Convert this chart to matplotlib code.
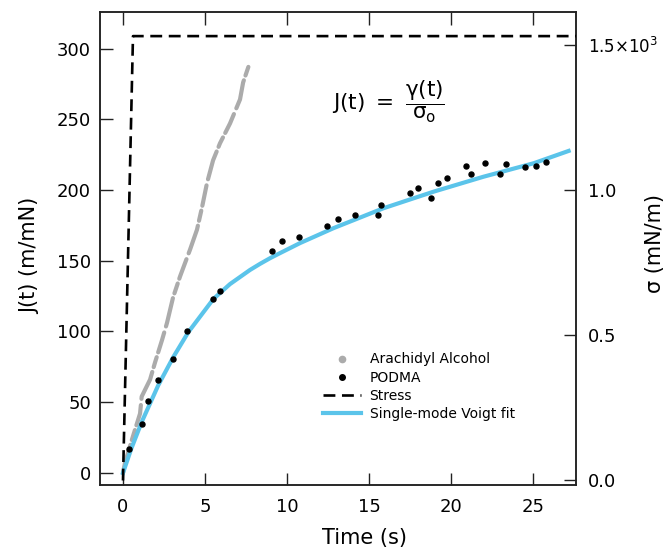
import matplotlib
matplotlib.use("Agg")
import matplotlib.pyplot as plt
from matplotlib.lines import Line2D

plt.rcParams['font.family'] = ['DejaVu Sans']
plt.rcParams['mathtext.fontset'] = 'custom'
plt.rcParams['mathtext.rm'] = 'DejaVu Sans'
plt.rcParams['mathtext.it'] = 'DejaVu Sans'

# Arachidyl Alcohol creep compliance (grey)
aa_t = [0.0, 0.12, 0.53, 1.04, 1.14, 1.65, 1.95, 2.38, 2.68, 3.05, 3.48, 4.09,
        4.51, 4.82, 5.12, 5.49, 5.91, 6.52, 7.13, 7.32, 7.64]
aa_J = [0, 7, 23, 42, 54, 66, 78, 94, 106, 124, 139, 158,
        172, 188, 205, 221, 233, 247, 264, 276, 287]

# PODMA creep compliance (black dots)
pod_t = [0.37, 1.14, 1.54, 2.15, 3.03, 3.92, 5.47, 5.91, 9.07, 9.71, 10.71, 12.40,
         13.13, 14.13, 15.53, 15.71, 17.46, 17.99, 18.74, 19.19, 19.77, 20.87,
         21.20, 22.05, 22.97, 23.35, 24.47, 25.16, 25.75]
pod_J = [16.7, 34.6, 50.7, 65.4, 80.4, 100.4, 123.2, 128.8, 157.1, 164.2, 166.8, 174.6,
         179.5, 182.3, 182.5, 189.2, 197.7, 201.4, 194.1, 205.2, 208.5, 216.7,
         211.1, 218.9, 211.5, 218.4, 216.0, 217.2, 219.8]

# Single-mode Voigt fit (blue)
fit_t = [0.0, 0.5, 1.14, 2.15, 3.07, 3.98, 5.51, 6.52, 7.74, 8.35, 8.96, 9.5, 10.79,
         12.82, 15.87, 18.92, 21.97, 25.02, 27.15]
fit_J = [0.0, 17.0, 36.0, 62.0, 82.0, 99.5, 123.0, 133.5, 143.5, 147.8, 151.8, 155.0, 162.5,
         173.0, 187.1, 198.8, 209.4, 218.9, 227.6]

# Applied stress (right axis, x10^3 mN/m)
stress_t = [0.0, 0.61, 28.0]
stress_s = [0.0, 1.53, 1.53]

xticks = [0, 5, 10, 15, 20, 25]
yticks = [0, 50, 100, 150, 200, 250, 300]
rticks = [0.0, 0.5, 1.0, 1.5]
rticklabels = ['0.0', '0.5', '1.0', r'$\mathrm{1.5{\times}10^{3}}$']

grey = '#ababab'
blue = '#5bc4ea'
ink = '#222222'

fig = plt.figure(figsize=(6.68, 5.47), dpi=100)
ax = fig.add_axes([100/668, 1-485/547, 476/668, 473/547])
ax2 = ax.twinx()

ax.plot(aa_t, aa_J, color=grey, lw=3.0, linestyle=(0, (7, 1.2, 2.5, 1.2, 5, 1.5)),
        solid_capstyle='round', dash_capstyle='round', zorder=2)
ax.plot(fit_t, fit_J, color=blue, lw=3.0, zorder=3)
ax.plot(pod_t, pod_J, 'o', color='black', ms=3.6, zorder=4)
ax2.plot(stress_t, stress_s, color='black', lw=1.9, linestyle=(0, (4.5, 2.5)), zorder=5)

ax.set_xlim(-1.4, 27.6)
ax.set_ylim(-8.5, 325.8)
ax2.set_ylim(-0.0155, 1.613)

ax.set_xticks(xticks)
ax.set_yticks(yticks)
ax2.set_yticks(rticks)
ax2.set_yticklabels(rticklabels)

for a in (ax, ax2):
    for s in a.spines.values():
        s.set_linewidth(1.1)
        s.set_color(ink)

ax.tick_params(axis='x', direction='in', length=9, width=1.0, labelsize=13, pad=9,
               top=True, color=ink)
ax.tick_params(axis='y', direction='in', length=9, width=1.0, labelsize=13, pad=6.5,
               right=False, color=ink)
ax2.tick_params(axis='y', direction='in', length=9, width=1.0, labelsize=13, pad=8.5,
                color=ink)
ax2.get_yticklabels()[-1].set_fontsize(12)

ax.set_xlabel('Time (s)', fontsize=15)
ax.xaxis.set_label_coords(0.555, -0.09)
ax.set_ylabel('J(t) (m/mN)', fontsize=15)
ax.yaxis.set_label_coords(-0.125, 0.485)
ax2.set_ylabel('σ (mN/m)', fontsize=15)
ax2.yaxis.set_label_coords(1.145, 0.51)

ax.text(0.488, 0.81, r'$\mathrm{J(t)\ =\ }\dfrac{\mathrm{γ(t)}}{\mathrm{σ_o}}$',
        transform=ax.transAxes, fontsize=15.5, ha='left', va='center')

handles = [
    Line2D([], [], marker='o', color=grey, ls='none', ms=4.5),
    Line2D([], [], marker='o', color='black', ls='none', ms=4),
    Line2D([], [], color='black', lw=1.9, ls=(0, (4.5, 2.5))),
    Line2D([], [], color=blue, lw=3.0),
]
labels = ['Arachidyl Alcohol', 'PODMA', 'Stress', 'Single-mode Voigt fit']
ax.legend(handles, labels, loc='upper left', bbox_to_anchor=(0.457, 0.292),
          frameon=False, fontsize=10, handlelength=2.7, handletextpad=0.65,
          labelspacing=0.3, borderaxespad=0)

fig.savefig('out.png', dpi=100)
